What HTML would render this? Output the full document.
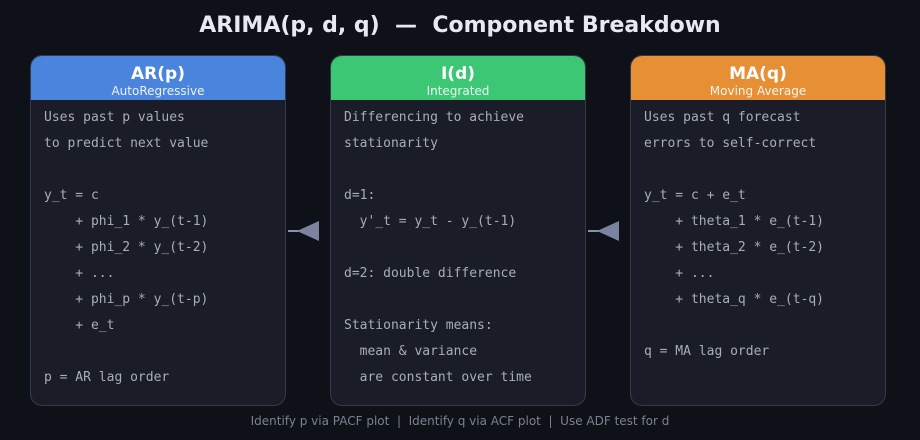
<!DOCTYPE html>
<html><head><meta charset="utf-8"><style>
body{margin:0;width:920px;height:440px;background:#0e1117;font-family:"DejaVu Sans","Liberation Sans",sans-serif;position:relative;overflow:hidden}
.t{position:absolute;top:13px;left:0;width:920px;text-align:center;color:#e6e9f0;font-weight:bold;font-size:22px}
.card{position:absolute;top:55px;width:254px;height:349px;background:#1a1d27;border:1px solid #343a4a;border-radius:12px;overflow:hidden}
.hd{height:44px;text-align:center;color:#fff}
.hd b{display:block;font-size:17px;padding-top:7px;line-height:22px}
.hd span{display:block;font-size:12px;line-height:13px;opacity:.9}
pre{margin:0;padding:5px 0 0 13px;font-family:"DejaVu Sans Mono","Liberation Mono",monospace;font-size:13px;line-height:26px;color:#a7adbb}
.f{position:absolute;top:414px;width:920px;text-align:center;color:#7b8191;font-size:12px}
</style></head><body>
<div class="t">ARIMA(p, d, q) &nbsp;—&nbsp; Component Breakdown</div>
<div class="card" style="left:30px"><div class="hd" style="background:#4a84dc"><b>AR(p)</b><span>AutoRegressive</span></div>
<pre>Uses past p values
to predict next value

y_t = c
    + phi_1 * y_(t-1)
    + phi_2 * y_(t-2)
    + ...
    + phi_p * y_(t-p)
    + e_t

p = AR lag order</pre></div>
<div class="card" style="left:330px"><div class="hd" style="background:#3cc774"><b>I(d)</b><span>Integrated</span></div>
<pre>Differencing to achieve
stationarity

d=1:
  y'_t = y_t - y_(t-1)

d=2: double difference

Stationarity means:
  mean &amp; variance
  are constant over time</pre></div>
<div class="card" style="left:630px"><div class="hd" style="background:#e68f35"><b>MA(q)</b><span>Moving Average</span></div>
<pre>Uses past q forecast
errors to self-correct

y_t = c + e_t
    + theta_1 * e_(t-1)
    + theta_2 * e_(t-2)
    + ...
    + theta_q * e_(t-q)

q = MA lag order</pre></div>
<svg style="position:absolute;left:0;top:0" width="920" height="440">
<line x1="288" y1="231" x2="300" y2="231" stroke="#8a90a8" stroke-width="2"/>
<polygon points="297,231 319,221 319,241" fill="#7c83a0"/>
<line x1="588" y1="231" x2="600" y2="231" stroke="#8a90a8" stroke-width="2"/>
<polygon points="597,231 619,221 619,241" fill="#7c83a0"/>
</svg>
<div class="f">Identify p via PACF plot &nbsp;|&nbsp; Identify q via ACF plot &nbsp;|&nbsp; Use ADF test for d</div>
</body></html>
